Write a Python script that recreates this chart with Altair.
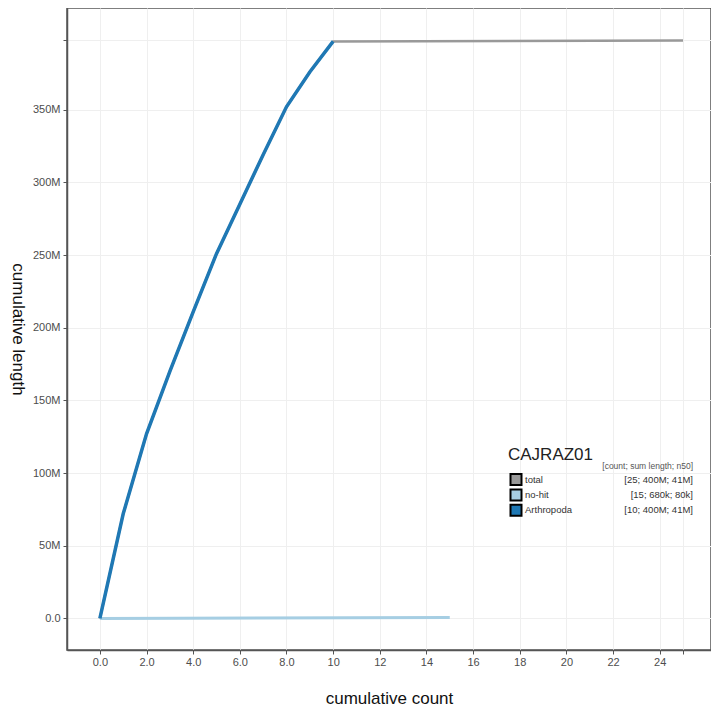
import altair as alt
import pandas as pd

# ---- data ----
series_names = ["total", "no-hit", "Arthropoda"]
series_colors = ["#999999", "#a6cee3", "#1f78b4"]
series_stats = ["[25; 400M; 41M]", "[15; 680k; 80k]", "[10; 400M; 41M]"]
legend_title = "CAJRAZ01"
legend_subtitle = "[count; sum length; n50]"

arth_count = [0, 1, 2, 3, 4, 5, 6, 7, 8, 9, 10]
arth_length = [0, 72e6, 127e6, 170e6, 211e6, 251e6, 285e6, 319e6, 352e6, 376e6, 397e6]

nohit_count = [0, 15]
nohit_length = [0, 0.68e6]

total_count = [0, 1, 2, 3, 4, 5, 6, 7, 8, 9, 10, 25]
total_length = [0, 72e6, 127e6, 170e6, 211e6, 251e6, 285e6, 319e6, 352e6, 376e6, 397e6, 397.7e6]

x_ticks = [0, 2, 4, 6, 8, 10, 12, 14, 16, 18, 20, 22, 24, 25]
y_ticks = [0, 50e6, 100e6, 150e6, 200e6, 250e6, 300e6, 350e6, 397.7e6]

FONT = "Liberation Sans"


def frame(name, counts, lengths):
    return pd.DataFrame({"series": name, "count": counts, "length": lengths})


df_total = frame("total", total_count, total_length)
df_nohit = frame("no-hit", nohit_count, nohit_length)
df_arth = frame("Arthropoda", arth_count, arth_length)

x_scale = alt.Scale(domain=[-1.41, 26.2], nice=False, zero=False)
y_scale = alt.Scale(domain=[-21.7e6, 420e6], nice=False, zero=False)
stroke_scale = alt.Scale(domain=series_names, range=series_colors)
fill_scale = alt.Scale(domain=series_names, range=series_colors)

x_axis = alt.Axis(
    values=x_ticks,
    labelExpr="datum.value == 25 ? '' : (datum.value < 10 ? format(datum.value, '.1f') : format(datum.value, 'd'))",
    title="cumulative count",
    titleY=48,
    titleBaseline="middle",
    labelPadding=2,
)
y_axis = alt.Axis(
    values=y_ticks,
    labelExpr="datum.value == 0 ? '0.0' : (datum.value > 360e6 ? '' : format(datum.value / 1e6, 'd') + 'M')",
    title="cumulative length",
    titleAngle=90,
    titleX=-50,
    titleY=321,
    titleAlign="center",
    titleBaseline="middle",
    labelPadding=3,
)

x_enc = alt.X("count:Q", scale=x_scale, axis=x_axis)
y_enc = alt.Y("length:Q", scale=y_scale, axis=y_axis)


def line_layer(df, width):
    return alt.Chart(df).mark_line(strokeWidth=width, strokeCap="butt").encode(
        x=x_enc,
        y=y_enc,
        stroke=alt.Stroke("series:N", scale=stroke_scale, legend=None),
    )


# ---- hand-built legend (layout positions in pixels) ----
LEG_X = 441          # left edge of legend title
SYM_X = 449          # centre of legend squares
LAB_X = 458          # left edge of legend labels
STAT_X = 626         # right edge of stats column
ROW0_Y = 471.5       # centre of first legend row
ROW_STEP = 15.4

legend_layers = [
    alt.Chart(pd.DataFrame({"t": [legend_title]})).mark_text(
        align="left", baseline="middle", font=FONT, fontSize=17, color="#222222"
    ).encode(text="t:N", x=alt.value(LEG_X), y=alt.value(447)),
    alt.Chart(pd.DataFrame({"t": [legend_subtitle]})).mark_text(
        align="right", baseline="middle", font=FONT, fontSize=8.5, color="#555555"
    ).encode(text="t:N", x=alt.value(STAT_X), y=alt.value(458)),
]

for i, (name, stat) in enumerate(zip(series_names, series_stats)):
    row_df = pd.DataFrame({"series": [name], "stat": [stat]})
    y_px = ROW0_Y + i * ROW_STEP
    base = alt.Chart(row_df)
    legend_layers.append(
        base.mark_square(size=121, stroke="black", strokeWidth=2, opacity=1, fillOpacity=1).encode(
            x=alt.value(SYM_X), y=alt.value(y_px),
            fill=alt.Fill("series:N", scale=fill_scale, legend=None),
        )
    )
    legend_layers.append(
        base.mark_text(align="left", baseline="middle", font=FONT, fontSize=9.5, color="#333333").encode(
            text="series:N", x=alt.value(LAB_X), y=alt.value(y_px)
        )
    )
    legend_layers.append(
        base.mark_text(align="right", baseline="middle", font=FONT, fontSize=9.5, color="#333333").encode(
            text="stat:N", x=alt.value(STAT_X), y=alt.value(y_px)
        )
    )

chart = alt.layer(
    line_layer(df_total, 2.5),
    line_layer(df_nohit, 3),
    line_layer(df_arth, 3.5),
    *legend_layers,
).properties(
    width=644,
    height=642,
    autosize=alt.AutoSizeParams(type="none"),
    padding={"left": 59, "top": 0, "right": 0, "bottom": 60},
).configure_view(
    stroke="#555555", strokeWidth=1.5
).configure_axis(
    grid=True,
    gridColor="#efefef",
    gridWidth=1,
    domainColor="#555555",
    domainWidth=1.5,
    tickColor="#555555",
    tickSize=4,
    labelFont=FONT,
    labelFontSize=11,
    labelColor="#4d4d4d",
    titleFont=FONT,
    titleFontSize=17,
    titleFontWeight="normal",
    titleColor="#111111",
)

chart.save("out.html", embed_options={"renderer": "svg", "actions": False})
